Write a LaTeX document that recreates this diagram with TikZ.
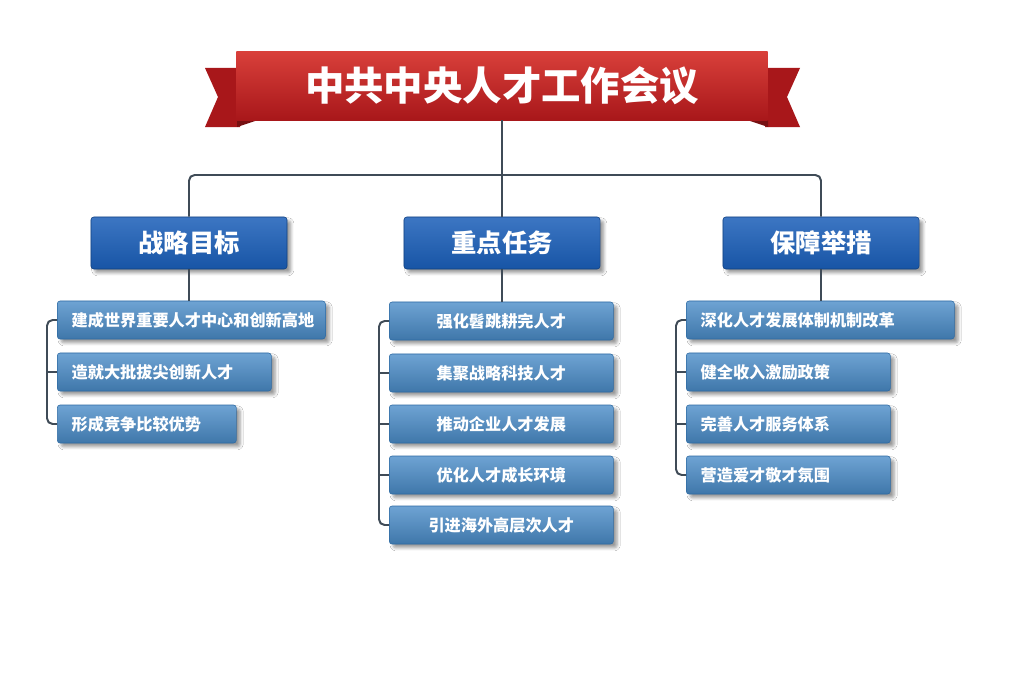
\documentclass[tikz,border=0pt]{standalone}
\usepackage{fontspec}
\setmainfont{Noto Sans CJK SC}
\usepackage{xcolor}
\usetikzlibrary{positioning, calc, shadows.blur}
\definecolor{ribbonred}{HTML}{D42A24}
\definecolor{ribbondark}{HTML}{A8171A}
\definecolor{headblue}{HTML}{1A5EB8}
\definecolor{itemblue}{HTML}{4A8CC8}
\definecolor{itemedge}{HTML}{2D6AA3}
\definecolor{linegray}{HTML}{3F4B57}

\begin{document}
\begin{tikzpicture}[x=0.025cm, y=-0.025cm,
  header/.style={draw=headblue!70!black, top color=headblue!85!white, bottom color=headblue!90!black,
    rounded corners=2pt, minimum width=4.9cm, minimum height=1.3cm,
    text=white, font=\fontsize{18}{18}\selectfont\bfseries, blur shadow={shadow blur steps=5}},
  item/.style={draw=itemedge, top color=itemblue!80!white, bottom color=itemblue!85!black,
    rounded corners=2pt, minimum height=0.95cm, anchor=west, inner xsep=0.36cm, inner ysep=0pt,
    text width=#1, align=left,
    text=white, font=\fontsize{11.5}{12}\selectfont\bfseries, blur shadow={shadow blur steps=5}},
  link/.style={draw=linegray, line width=1.4pt, rounded corners=4pt}]
  % Canvas
  \fill[white] (0,0) rectangle (1024,683);

  % Title ribbon
  \fill[ribbondark] (205,68) -- (240,68) -- (240,127) -- (205,127) -- (218,97) -- cycle;
  \fill[ribbondark] (800,68) -- (765,68) -- (765,127) -- (800,127) -- (787,97) -- cycle;
  \fill[ribbondark!70!black] (237,120) -- (258,120) -- (237,127) -- cycle;
  \fill[ribbondark!70!black] (768,120) -- (747,120) -- (768,127) -- cycle;
  \node[top color=ribbonred!90!white, bottom color=ribbondark, minimum width=13.275cm,
    minimum height=1.7cm, text=white, font=\fontsize{28}{28}\selectfont\bfseries]
    (title) at (502,86) {中共中央人才工作会议};

  % Column headers
  \node[header] (goal) at (189,243) {战略目标};
  \node[header] (task) at (502,243) {重点任务};
  \node[header] (guard) at (821,243) {保障举措};

  % Tree from title
  \coordinate (hub) at (502,175);
  \draw[link] (title.south) -- (hub);
  \draw[link] (hub) -| (goal.north);
  \draw[link] (hub) -| (guard.north);
  \draw[link] (hub) -- (task.north);

  % Left column
  \node[item=5.98cm] (g1) at (57,320) {建成世界重要人才中心和创新高地};
  \node[item=4.63cm] (g2) at (57,372) {造就大批拔尖创新人才};
  \node[item=3.755cm] (g3) at (57,424) {形成竞争比较优势};
  \draw[link] (goal.south) -- (goal.south |- g1.north);
  \draw[link] (g1.west) -- ++(-10,0) coordinate (gt) -- (gt |- g3.west) -- (g3.west);
  \draw[link] (g2.west) -- ++(-10,0);

  % Middle column
  \foreach \y/\name/\label in {321/t1/强化髫跳耕完人才, 373/t2/集聚战略科技人才, 424/t3/推动企业人才发展,
      475/t4/优化人才成长环境, 525/t5/引进海外高层次人才} {
    \node[item=4.88cm, align=center] (\name) at (389,\y) {\label};
  }
  \draw[link] (task.south) -- (task.south |- t1.north);
  \draw[link] (t1.west) -- ++(-10,0) coordinate (tt) -- (tt |- t5.west) -- (t5.west);
  \foreach \name in {t2,t3,t4} {
    \draw[link] (\name.west) -- ++(-10,0);
  }

  % Right column
  \node[item=5.98cm] (s1) at (686,320) {深化人才发展体制机制改革};
  \foreach \y/\name/\label in {372/s2/健全收入激励政策, 424/s3/完善人才服务体系, 475/s4/营造爱才敬才氛围} {
    \node[item=4.38cm] (\name) at (686,\y) {\label};
  }
  \draw[link] (guard.south) -- (guard.south |- s1.north);
  \draw[link] (s1.west) -- ++(-10,0) coordinate (st) -- (st |- s4.west) -- (s4.west);
  \foreach \name in {s2,s3} {
    \draw[link] (\name.west) -- ++(-10,0);
  }
\end{tikzpicture}
\end{document}
